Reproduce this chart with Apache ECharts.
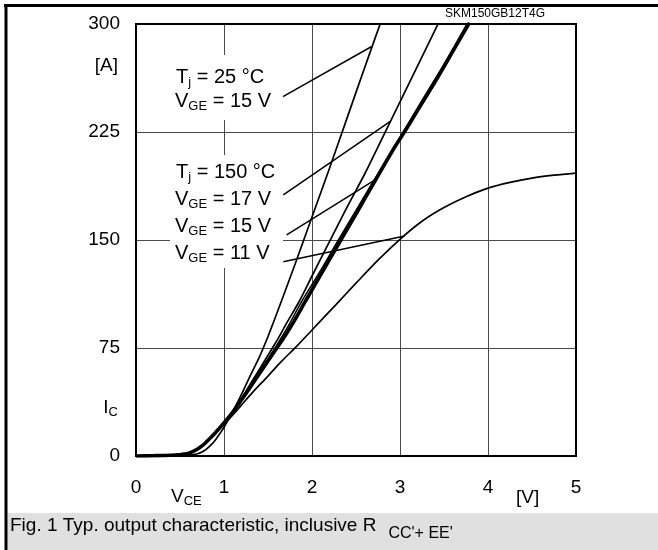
<!DOCTYPE html>
<html><head><meta charset="utf-8">
<script src="https://cdn.jsdelivr.net/npm/echarts@6/dist/echarts.min.js"></script>
<style>html,body{margin:0;padding:0;background:#fff}#c{width:658px;height:550px}</style>
</head><body><div id="c"></div>
<script>
// ---- data (V_CE in V, I_C in A) ----
const xTicks = [0, 1, 2, 3, 4, 5];
const yTicks = [0, 75, 150, 225, 300];

// Tj = 25 °C, VGE = 15 V
const a25_15_V = [0, 0.3, 0.5, 0.6, 0.65, 0.7, 0.75, 0.8, 0.85, 0.9, 0.95, 1.0, 1.1, 1.2, 1.3, 1.4, 1.5, 1.6, 1.8, 2.0, 2.2, 2.4, 2.6, 2.78];
const a25_15_I = [0, 0.2, 0.4, 0.6, 0.9, 1.6, 2.8, 4.8, 7.5, 11, 15.3, 20, 31, 43, 56, 68.5, 83, 99, 132, 166, 200, 235, 270, 301];

// Tj = 150 °C, VGE = 17 V
const b150_17_V = [0, 0.2, 0.4, 0.5, 0.55, 0.6, 0.65, 0.7, 0.75, 0.8, 0.85, 0.9, 0.95, 1.0, 1.1, 1.2, 1.3, 1.4, 1.5, 1.6, 1.7, 1.86, 2.0, 2.2, 2.4, 2.6, 2.8, 3.0, 3.2, 3.44];
const b150_17_I = [0, 0.2, 0.5, 0.9, 1.3, 2, 3.2, 4.8, 7, 9.8, 12.8, 16, 19.5, 23, 31, 40, 50, 60, 70, 80, 91, 108, 125, 149, 173, 196, 221, 246, 271, 301];

// Tj = 150 °C, VGE = 15 V (thick)
const c150_15_V = [0, 0.2, 0.4, 0.5, 0.55, 0.6, 0.65, 0.7, 0.75, 0.8, 0.85, 0.9, 0.95, 1.0, 1.1, 1.2, 1.3, 1.4, 1.5, 1.6, 1.7, 1.8, 1.93, 2.1, 2.3, 2.5, 2.72, 2.92, 3.05, 3.2, 3.4, 3.6, 3.79];
const c150_15_I = [0, 0.2, 0.5, 0.9, 1.3, 2, 3.2, 4.8, 7, 9.8, 12.8, 16, 19.5, 23, 30.5, 39, 48, 57, 66, 75, 84, 94, 108, 126, 147, 168, 191.5, 212.5, 225, 240, 260, 281, 301];

// companion thin curve beside the thick one
const e150_15_V = [0, 0.2, 0.4, 0.5, 0.55, 0.6, 0.65, 0.7, 0.75, 0.8, 0.85, 0.9, 0.95, 1.0, 1.1, 1.2, 1.3, 1.4, 1.5, 1.6, 1.7, 1.89, 2.1, 2.3, 2.5, 2.7, 2.9, 3.1, 3.3, 3.5, 3.77];
const e150_15_I = [0, 0.2, 0.5, 0.9, 1.3, 2, 3.2, 4.8, 7, 9.8, 12.8, 16, 19.5, 23, 31, 40, 49, 58.5, 67.5, 77, 87, 108, 129, 150, 170.5, 191, 211, 231.5, 252, 272, 301];

// Tj = 150 °C, VGE = 11 V
const d150_11_V = [0, 0.2, 0.4, 0.5, 0.55, 0.6, 0.65, 0.7, 0.75, 0.8, 0.85, 0.9, 0.95, 1.0, 1.1, 1.2, 1.33, 1.5, 1.65, 1.83, 2.0, 2.27, 2.5, 2.75, 3.0, 3.25, 3.5, 3.75, 4.0, 4.25, 4.5, 4.75, 5.0];
const d150_11_I = [0, 0.2, 0.5, 0.9, 1.3, 2, 3.2, 4.8, 7, 9.8, 12.8, 16, 19.2, 22, 28.5, 35.5, 44.5, 55.5, 65.5, 76.5, 87.5, 105, 120, 136, 150.5, 163, 172.5, 180, 186, 190, 193, 195, 196.5];

// leader lines: [start V, start I, end V, end I]
const leader25_15 = [1.67, 249.5, 2.673, 284.2];
const leader150_17 = [1.674, 181.3, 2.886, 232.2];
const leader150_15 = [1.712, 153.5, 2.716, 191.7];
const leader150_11 = [1.674, 134.9, 3.053, 152.8];

// ---- chart ----
const F = 'Liberation Sans, Arial, sans-serif';
const zip = (v, i) => v.map((x, k) => [x, i[k]]);
const lineSeries = (name, v, i, w) => ({
  name, type: 'line', data: zip(v, i), showSymbol: false, symbol: 'none',
  smooth: 0.3, clip: true, z: 2,
  lineStyle: { color: '#000', width: w }, emphasis: { disabled: true }
});
const leaderPair = (L) => [{ coord: [L[0], L[1]] }, { coord: [L[2], L[3]] }];

const richBig = {
  m: { fontSize: 20, fontFamily: F, color: '#000', lineHeight: 23 },
  s: { fontSize: 13, fontFamily: F, color: '#000', verticalAlign: 'bottom', lineHeight: 13 }
};
const richAx = {
  m: { fontSize: 19, fontFamily: F, color: '#000', lineHeight: 22 },
  s: { fontSize: 13, fontFamily: F, color: '#000', verticalAlign: 'bottom', lineHeight: 13 }
};
const txt = (x, y, text, align, rich) => ({
  type: 'text', x, y, z: 1,
  style: { text, rich: rich || richBig, align: align || 'left', verticalAlign: 'middle' }
});

const chart = echarts.init(document.getElementById('c'), null, { renderer: 'canvas' });
const sA = lineSeries('Tj = 25 °C, VGE = 15 V', a25_15_V, a25_15_I, 1.7);
sA.markLine = {
  silent: true, symbol: ['none', 'none'], animation: false,
  label: { show: false },
  lineStyle: { color: '#000', type: 'solid', width: 1.5 },
  emphasis: { disabled: true },
  data: [leaderPair(leader25_15), leaderPair(leader150_17), leaderPair(leader150_15), leaderPair(leader150_11)]
};

chart.setOption({
  animation: false,
  backgroundColor: '#fff',
  grid: { left: 136, top: 24, width: 440, height: 432, show: true, z: 5,
          borderColor: '#000', borderWidth: 2, backgroundColor: 'rgba(0,0,0,0)' },
  xAxis: {
    type: 'value', min: xTicks[0], max: xTicks[xTicks.length - 1], interval: 1,
    axisLine: { show: false }, axisTick: { show: false },
    axisLabel: { margin: 22, fontSize: 19, fontFamily: F, color: '#000' },
    splitLine: { show: true, lineStyle: { color: '#4a4a4a', width: 1 } }
  },
  yAxis: {
    type: 'value', min: yTicks[0], max: yTicks[yTicks.length - 1], interval: 75,
    axisLine: { show: false }, axisTick: { show: false },
    axisLabel: { margin: 16, fontSize: 19, fontFamily: F, color: '#000' },
    splitLine: { show: true, lineStyle: { color: '#4a4a4a', width: 1 } }
  },
  series: [
    sA,
    lineSeries('Tj = 150 °C, VGE = 17 V', b150_17_V, b150_17_I, 1.7),
    lineSeries('Tj = 150 °C, VGE = 15 V (b)', e150_15_V, e150_15_I, 1.5),
    lineSeries('Tj = 150 °C, VGE = 15 V', c150_15_V, c150_15_I, 3.6),
    lineSeries('Tj = 150 °C, VGE = 11 V', d150_11_V, d150_11_I, 1.7)
  ],
  graphic: [
    // outer frame
    { type: 'line', z: 10, shape: { x1: 4, y1: 5.5, x2: 658, y2: 5.5 }, style: { stroke: '#000', lineWidth: 3 } },
    { type: 'line', z: 10, shape: { x1: 6, y1: 4, x2: 6, y2: 550 }, style: { stroke: '#000', lineWidth: 3 } },
    // caption band
    { type: 'rect', z: 1, shape: { x: 7.5, y: 513, width: 651, height: 37 }, style: { fill: '#e0e0e0' } },
    { type: 'text', x: 10, y: 526, z: 2, style: {
        text: "{m|Fig. 1 Typ. output characteristic, inclusive R}{s|CC'+ EE'}",
        rich: {
          m: { fontSize: 19, fontFamily: F, color: '#000', lineHeight: 31 },
          s: { fontSize: 16, fontFamily: F, color: '#000', verticalAlign: 'bottom', lineHeight: 16, padding: [0, 0, 0, 12] }
        },
        align: 'left', verticalAlign: 'middle' } },
    // label backgrounds (gaps in grid)
    { type: 'rect', z: 1, shape: { x: 168, y: 55, width: 112, height: 65 }, style: { fill: '#fff' } },
    { type: 'rect', z: 1, shape: { x: 170, y: 155, width: 113, height: 113 }, style: { fill: '#fff' } },
    // curve labels
    txt(176, 77, '{m|T}{s|j}{m| = 25 °C}'),
    txt(175, 101, '{m|V}{s|GE}{m| = 15 V}'),
    txt(176, 172, '{m|T}{s|j}{m| = 150 °C}'),
    txt(175, 199, '{m|V}{s|GE}{m| = 17 V}'),
    txt(175, 226, '{m|V}{s|GE}{m| = 15 V}'),
    txt(175, 253, '{m|V}{s|GE}{m| = 11 V}'),
    // axis names
    txt(118, 66, '{m|[A]}', 'right', richAx),
    txt(118, 408, '{m|I}{s|C}', 'right', richAx),
    txt(171, 497, '{m|V}{s|CE}', 'left', richAx),
    txt(516, 498, '{m|[V]}', 'left', richAx),
    { type: 'text', x: 445, y: 14, z: 1, style: { text: 'SKM150GB12T4G', fontSize: 12, fontFamily: F, fill: '#000', align: 'left', verticalAlign: 'middle' } }
  ]
});
</script>
</body></html>
